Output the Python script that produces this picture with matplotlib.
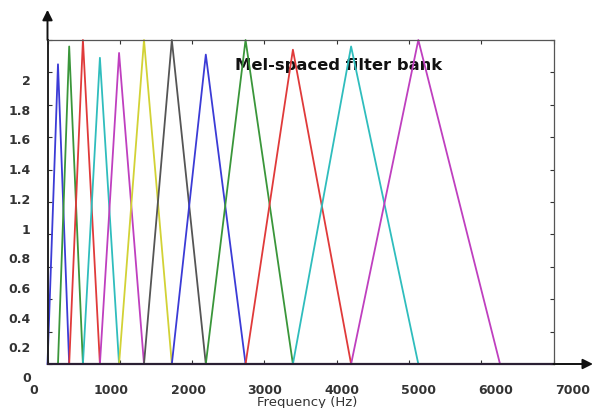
#%% Mel-spaced triangular filter bank
import numpy as np
import matplotlib.pyplot as plt

#%% Data
# edge/centre frequencies of the filters (Hz); filter i spans edges[i-1] .. edges[i+1]
edges = [0, 145, 300, 490, 725, 990, 1335, 1720, 2190, 2740, 3395, 4200, 5130, 6260]
# peak height of each of the 12 filters
peaks = [1.85, 1.96, 2.0, 1.89, 1.92, 2.0, 2.0, 1.91, 2.0, 1.94, 1.96, 2.0]
# old matlab colour order, a bit washed out like the picture
colours = ['#3b3bd6', '#3a963a', '#e03a3a', '#2fbdbd', '#bf3fbf', '#d2d235', '#555555']

x_ticks = np.arange(0, 7001, 1000)
y_ticks = np.arange(0, 2.01, 0.2)
x_labels = ['0', '1000', '2000', '3000', '4000', '5000', '6000', '7000']
y_labels = ['0', '0.2', '0.4', '0.6', '0.8', '1', '1.2', '1.4', '1.6', '1.8', '2']

#%% Figure
fig = plt.figure(figsize=(5.94, 4.08), dpi=100)
ax = fig.add_axes([47.5 / 594, 44 / 408, 506 / 594, 324 / 408])

for i in range(len(peaks)):
    fx = [edges[i], edges[i + 1], edges[i + 2]]
    fy = [0, peaks[i], 0]
    ax.plot(fx, fy, color=colours[i % len(colours)], lw=1.3, zorder=2,
            clip_on=False)

ax.set_xlim(0, 7000)
ax.set_ylim(0, 2)
ax.set_xticks(x_ticks)
ax.set_yticks(y_ticks)
ax.tick_params(direction='in', length=3, width=0.8, color='#333333',
               top=True, right=True, labelbottom=False, labelleft=False)

for side in ['top', 'right']:
    ax.spines[side].set_color('#555555')
    ax.spines[side].set_linewidth(0.9)
ax.spines['left'].set_color('#222222')
ax.spines['left'].set_linewidth(1.4)
ax.spines['bottom'].set_color('#2a1f33')
ax.spines['bottom'].set_linewidth(1.6)

# arrows at the ends of the axes
head = '-|>,head_length=0.6,head_width=0.3'
ax.annotate('', xy=(0, 1.093), xytext=(0, 1.0), xycoords='axes fraction',
            arrowprops=dict(arrowstyle=head, color='#111111', lw=1.4,
                            mutation_scale=10, shrinkA=0, shrinkB=0),
            annotation_clip=False)
ax.annotate('', xy=(1.078, 0), xytext=(1.0, 0), xycoords='axes fraction',
            arrowprops=dict(arrowstyle=head, color='#111111', lw=1.4,
                            mutation_scale=10, shrinkA=0, shrinkB=0),
            annotation_clip=False)

ax.text(0.3706, 0.9207, 'Mel-spaced filter bank', transform=ax.transAxes,
        ha='left', va='center', fontsize=11.8, fontweight='bold',
        color='#111111', zorder=1)

ax.set_xlabel('Frequency (Hz)', fontsize=9.5, color='#333333')
ax.xaxis.set_label_coords(0.513, -0.10)

# tick labels sit slightly off the tick marks in the original, so they get
# their own invisible axes (one for x, one for y)
lab_x = fig.add_axes([34 / 594, 31 / 408, 539 / 594, 297 / 408])
lab_y = fig.add_axes([28 / 594, 31 / 408, 539 / 594, 297 / 408])
for lab in [lab_x, lab_y]:
    lab.patch.set_visible(False)
    for s in lab.spines.values():
        s.set_visible(False)
    lab.set_xlim(0, 7000)
    lab.set_ylim(0, 2)
    lab.tick_params(length=0, labelsize=9, labelcolor='#333333')

lab_x.set_xticks(x_ticks)
lab_x.set_xticklabels(x_labels)
lab_x.set_yticks([])
lab_x.tick_params(axis='x', pad=5)

lab_y.set_xticks([])
lab_y.set_yticks(y_ticks)
lab_y.set_yticklabels(y_labels)
lab_y.tick_params(axis='y', pad=-2)

for t in lab_x.get_xticklabels() + lab_y.get_yticklabels():
    t.set_fontweight('bold')

fig.savefig('out.png', dpi=100)
